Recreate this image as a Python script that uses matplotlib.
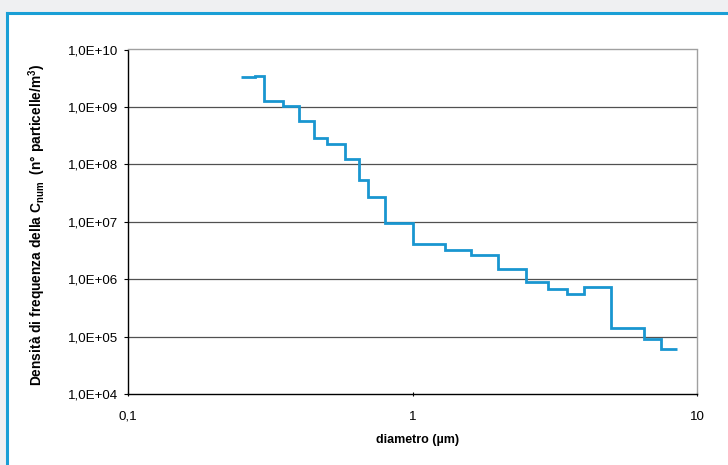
import matplotlib
matplotlib.use("Agg")
import matplotlib.pyplot as plt
from matplotlib.patches import Rectangle
from matplotlib.ticker import FixedLocator, NullLocator
import numpy as np

plt.rcParams['font.family'] = ['Liberation Sans', 'DejaVu Sans']
plt.rcParams['mathtext.fontset'] = 'custom'
plt.rcParams['mathtext.rm'] = 'Liberation Sans'
plt.rcParams['mathtext.bf'] = 'Liberation Sans:bold'

# bin edges (diameter, µm) and density values
edges = [0.25, 0.28, 0.30, 0.35, 0.40, 0.45, 0.50, 0.58, 0.65, 0.70, 0.80, 1.0,
         1.3, 1.6, 2.0, 2.5, 3.0, 3.5, 4.0, 5.0, 6.5, 7.5, 8.5]
values = [3.28e9, 3.50e9, 1.27e9, 1.04e9, 5.68e8, 2.91e8, 2.28e8, 1.24e8,
          5.33e7, 2.73e7, 9.6e6, 4.09e6, 3.25e6, 2.66e6, 1.48e6, 8.9e5,
          6.64e5, 5.50e5, 7.29e5, 1.39e5, 8.94e4, 6.06e4]

y_ticks = [1e4, 1e5, 1e6, 1e7, 1e8, 1e9, 1e10]
y_labels = ['1,0E+04', '1,0E+05', '1,0E+06', '1,0E+07', '1,0E+08', '1,0E+09', '1,0E+10']
x_ticks = [0.1, 1, 10]
x_labels = ['0,1', '1', '10']

W, H = 728, 465
fig = plt.figure(figsize=(W / 100, H / 100), dpi=100)
fig.patch.set_facecolor('#eff0f2')

# white panel with blue top/left border
panel = Rectangle((7 / W, 0), 1, 1 - 13 / H, transform=fig.transFigure,
                  facecolor='white', edgecolor='none', zorder=-5)
fig.add_artist(panel)
fig.add_artist(plt.Line2D([6.5 / W, 1], [1 - 13.5 / H, 1 - 13.5 / H], transform=fig.transFigure,
                          color='#1a9fd6', lw=2.2, zorder=-4))
fig.add_artist(plt.Line2D([7.3 / W, 7.3 / W], [0, 1 - 13.5 / H], transform=fig.transFigure,
                          color='#1a9fd6', lw=2.2, zorder=-4))

ax = fig.add_axes([128 / W, 1 - 394 / H, (697 - 128) / W, (394 - 49.5) / H])
ax.set_zorder(5)
ax.set_facecolor('white')
ax.set_xscale('log')
ax.set_yscale('log')
ax.set_xlim(0.1, 10)
ax.set_ylim(1e4, 1e10)

for y in y_ticks[1:-1]:
    ax.axhline(y, color='#505050', lw=0.9, zorder=1)

ax.stairs(values, edges, baseline=None, color='#1996d0', lw=2.0, zorder=3)

ax.yaxis.set_major_locator(FixedLocator(y_ticks))
ax.yaxis.set_minor_locator(NullLocator())
ax.set_yticklabels(y_labels, fontsize=9.6)
ax.xaxis.set_major_locator(FixedLocator(x_ticks))
ax.xaxis.set_minor_locator(NullLocator())
ax.set_xticklabels(x_labels, fontsize=9.6)
ax.tick_params(axis='y', direction='out', length=3, width=0.8, pad=4)
ax.tick_params(axis='x', direction='inout', length=3, width=0.8, pad=10.5)

ax.spines['left'].set_color('black')
ax.spines['bottom'].set_color('black')
ax.spines['top'].set_color('#a0a0a0')
ax.spines['right'].set_color('#a0a0a0')
for s in ax.spines.values():
    s.set_linewidth(1.0)

fig.text(418 / W, 1 - 440 / H, 'diametro (µm)', ha='center', va='center',
         fontsize=9.0, fontweight='bold')
fig.text(37 / W, 1 - 225 / H,
         r'Densità di frequenza della C$_{\mathbf{num}}$  (n° particelle/m$^{\mathbf{3}}$)',
         ha='center', va='center', rotation=90, fontsize=9.9, fontweight='bold')

fig.savefig('out.png', dpi=100, facecolor=fig.get_facecolor())
